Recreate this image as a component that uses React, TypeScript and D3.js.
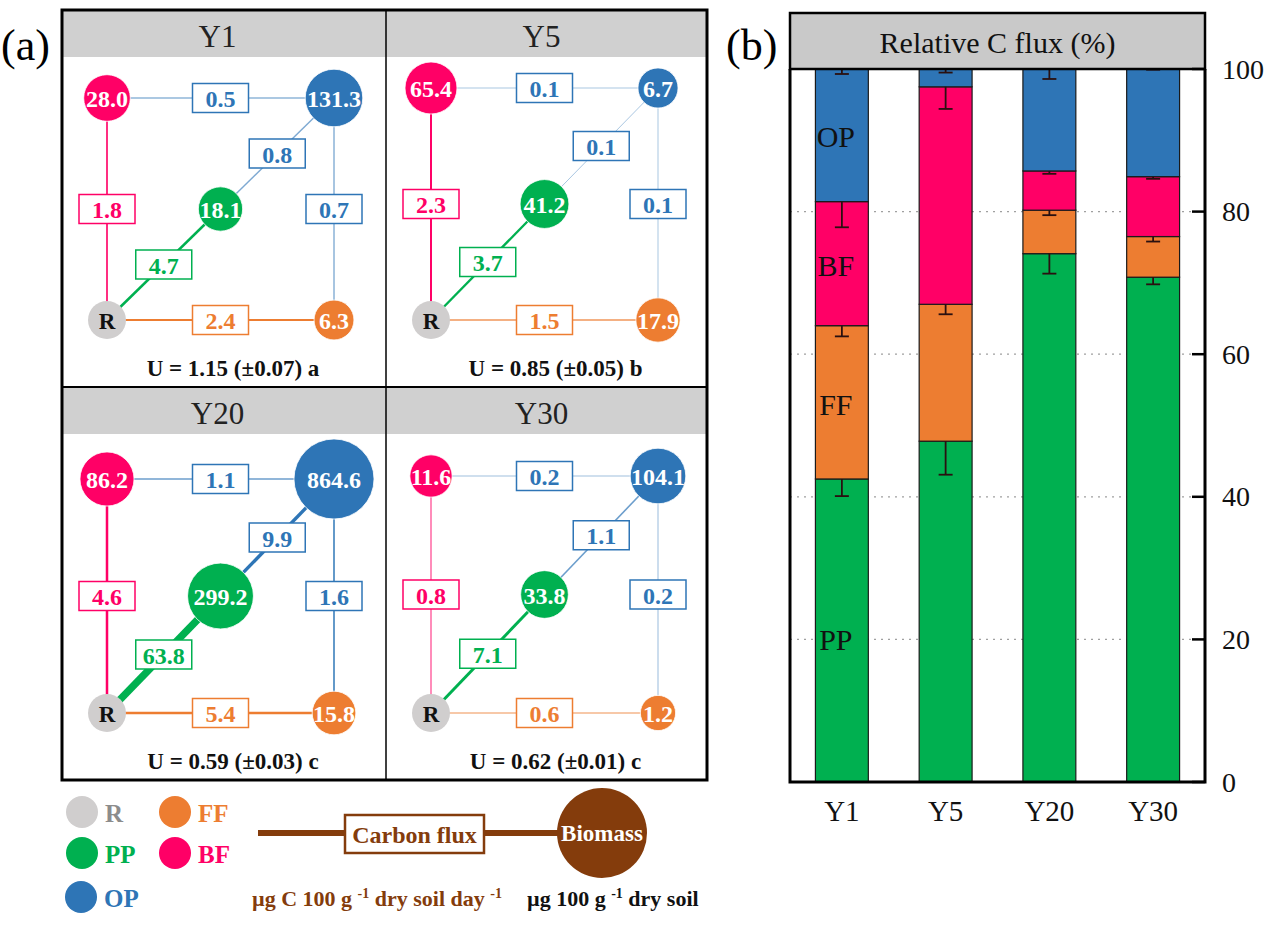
import React, { useEffect, useRef } from 'react';
import * as d3 from 'd3';

const years = ['Y1', 'Y5', 'Y20', 'Y30'];

// biomass of each group (µg 100 g-1 dry soil)
const bfBiomass = [28.0, 65.4, 86.2, 11.6];
const opBiomass = [131.3, 6.7, 864.6, 104.1];
const ppBiomass = [18.1, 41.2, 299.2, 33.8];
const ffBiomass = [6.3, 17.9, 15.8, 1.2];

// carbon fluxes (µg C 100 g-1 dry soil day-1)
const fluxRtoBF = [1.8, 2.3, 4.6, 0.8];
const fluxBFtoOP = [0.5, 0.1, 1.1, 0.2];
const fluxRtoPP = [4.7, 3.7, 63.8, 7.1];
const fluxPPtoOP = [0.8, 0.1, 9.9, 1.1];
const fluxRtoFF = [2.4, 1.5, 5.4, 0.6];
const fluxFFtoOP = [0.7, 0.1, 1.6, 0.2];

const uValues = ['1.15', '0.85', '0.59', '0.62'];
const uErrors = ['0.07', '0.05', '0.03', '0.01'];
const uLetters = ['a', 'b', 'c', 'c'];

// relative C flux (%), stacked from bottom
const groups = ['PP', 'FF', 'BF', 'OP'];
const relPP = [42.5, 47.8, 74.1, 70.8];
const relFF = [21.5, 19.2, 6.1, 5.7];
const relBF = [17.4, 30.5, 5.5, 8.4];
const relOP = [18.6, 2.5, 14.3, 15.1];
const errPP = [2.4, 4.7, 2.8, 1.0];
const errFF = [1.5, 1.4, 0.7, 0.7];
const errBF = [3.6, 3.1, 0.4, 0.3];
const errOP = [0.7, 0.5, 1.4, 0.1];
const yTicks = [0, 20, 40, 60, 80, 100];

const COLORS: Record<string, string> = {
  R: '#D0CECE',
  PP: '#00B050',
  FF: '#ED7D31',
  BF: '#FF0066',
  OP: '#2E75B6',
};
const BROWN = '#843C0C';
const FONT = "'Liberation Serif', 'Times New Roman', serif";

export default function App() {
  const svgRef = useRef<SVGSVGElement | null>(null);

  useEffect(() => {
    if (!svgRef.current) return;
    const svg = d3.select(svgRef.current);
    svg.selectAll('*').remove();
    svg.style('font-family', FONT);

    // ---------- panel (a): food web diagrams ----------
    const fx0 = 62, fx1 = 707, fy0 = 10, fy1 = 780, midX = 386, midY = 387;
    const headerH = 47;
    const topOffset = [41, 31, 45, 42];

    const rScale = d3.scalePow().exponent(0.3).domain([0, 1000]).range([14, 41.2]);
    const wScale = d3.scaleSqrt().domain([0, 64]).range([0.7, 7.5]);
    const opScale = d3.scaleLinear().domain([0, 2.2]).range([0.4, 1]).clamp(true);

    svg.append('text')
      .attr('x', 1).attr('y', 45)
      .attr('dominant-baseline', 'central')
      .style('font-size', '44px')
      .text('(a)');

    const ga = svg.append('g');

    years.forEach((yr, i) => {
      const col = i % 2, row = Math.floor(i / 2);
      const x0 = col ? midX : fx0;
      const x1 = col ? fx1 : midX;
      const top = row ? midY : fy0;
      const bottom = row ? fy1 : midY;

      ga.append('rect')
        .attr('x', x0).attr('y', top)
        .attr('width', x1 - x0).attr('height', headerH)
        .attr('fill', '#D0D0D0');

      const left = x0 + 45, right = x0 + 272;
      const ty = top + headerH + topOffset[i];
      const by = bottom - 67;
      const pos: Record<string, [number, number]> = {
        BF: [left, ty],
        OP: [right, ty],
        R: [left, by],
        FF: [right, by],
        PP: [(left + right) / 2, (ty + by) / 2],
      };

      ga.append('text')
        .attr('x', (left + right) / 2 - 3).attr('y', top + 26)
        .attr('text-anchor', 'middle')
        .attr('dominant-baseline', 'central')
        .style('font-size', '31px')
        .attr('fill', '#222')
        .text(yr);

      const edges = [
        { a: 'R', b: 'BF', v: fluxRtoBF[i], c: COLORS.BF },
        { a: 'BF', b: 'OP', v: fluxBFtoOP[i], c: COLORS.OP },
        { a: 'PP', b: 'OP', v: fluxPPtoOP[i], c: COLORS.OP },
        { a: 'OP', b: 'FF', v: fluxFFtoOP[i], c: COLORS.OP },
        { a: 'R', b: 'PP', v: fluxRtoPP[i], c: COLORS.PP },
        { a: 'R', b: 'FF', v: fluxRtoFF[i], c: COLORS.FF },
      ];

      edges.forEach(e => {
        ga.append('line')
          .attr('x1', pos[e.a][0]).attr('y1', pos[e.a][1])
          .attr('x2', pos[e.b][0]).attr('y2', pos[e.b][1])
          .attr('stroke', e.c)
          .attr('stroke-opacity', opScale(e.v))
          .attr('stroke-width', wScale(e.v));
      });

      edges.forEach(e => {
        const mx = (pos[e.a][0] + pos[e.b][0]) / 2;
        const my = (pos[e.a][1] + pos[e.b][1]) / 2;
        ga.append('rect')
          .attr('x', mx - 28).attr('y', my - 14.5)
          .attr('width', 56).attr('height', 29)
          .attr('fill', '#fff')
          .attr('stroke', e.c)
          .attr('stroke-width', 1.5);
        ga.append('text')
          .attr('x', mx).attr('y', my + 1)
          .attr('text-anchor', 'middle')
          .attr('dominant-baseline', 'central')
          .style('font-size', '24px')
          .style('font-weight', 'bold')
          .attr('fill', e.c)
          .text(e.v.toFixed(1));
      });

      const nodes = [
        { k: 'BF', v: bfBiomass[i] },
        { k: 'OP', v: opBiomass[i] },
        { k: 'PP', v: ppBiomass[i] },
        { k: 'FF', v: ffBiomass[i] },
      ];
      ga.append('circle')
        .attr('cx', pos.R[0]).attr('cy', pos.R[1])
        .attr('r', 19)
        .attr('fill', COLORS.R);
      ga.append('text')
        .attr('x', pos.R[0]).attr('y', pos.R[1] + 1)
        .attr('text-anchor', 'middle')
        .attr('dominant-baseline', 'central')
        .style('font-size', '23px')
        .style('font-weight', 'bold')
        .attr('fill', '#111')
        .text('R');

      nodes.forEach(n => {
        ga.append('circle')
          .attr('cx', pos[n.k][0]).attr('cy', pos[n.k][1])
          .attr('r', rScale(n.v))
          .attr('fill', COLORS[n.k])
          .attr('stroke', '#fff')
          .attr('stroke-width', 0.8);
        ga.append('text')
          .attr('x', pos[n.k][0]).attr('y', pos[n.k][1] + 1)
          .attr('text-anchor', 'middle')
          .attr('dominant-baseline', 'central')
          .style('font-size', '24px')
          .style('font-weight', 'bold')
          .attr('fill', '#fff')
          .text(n.v.toFixed(1));
      });

      ga.append('text')
        .attr('x', (x0 + x1) / 2 + 9).attr('y', bottom - 19)
        .attr('text-anchor', 'middle')
        .attr('dominant-baseline', 'central')
        .style('font-size', '23px')
        .style('font-weight', 'bold')
        .attr('fill', '#111')
        .text(`U = ${uValues[i]} (±${uErrors[i]}) ${uLetters[i]}`);
    });

    // frame and dividers
    ga.append('rect')
      .attr('x', fx0).attr('y', fy0)
      .attr('width', fx1 - fx0).attr('height', fy1 - fy0)
      .attr('fill', 'none').attr('stroke', '#000').attr('stroke-width', 3);
    ga.append('line')
      .attr('x1', midX).attr('x2', midX).attr('y1', fy0).attr('y2', fy1)
      .attr('stroke', '#000').attr('stroke-width', 1.5);
    ga.append('line')
      .attr('x1', fx0).attr('x2', fx1).attr('y1', midY).attr('y2', midY)
      .attr('stroke', '#000').attr('stroke-width', 2);

    // legend
    const lg = svg.append('g');
    const legendItems = [
      { k: 'R', x: 82, y: 812, tc: '#8C8C8C' },
      { k: 'FF', x: 175, y: 812, tc: COLORS.FF },
      { k: 'PP', x: 82, y: 853, tc: COLORS.PP },
      { k: 'BF', x: 175, y: 853, tc: COLORS.BF },
      { k: 'OP', x: 81, y: 897, tc: COLORS.OP },
    ];
    legendItems.forEach(d => {
      lg.append('circle')
        .attr('cx', d.x).attr('cy', d.y).attr('r', 16)
        .attr('fill', COLORS[d.k]);
      lg.append('text')
        .attr('x', d.x + 23).attr('y', d.y + 1)
        .attr('dominant-baseline', 'central')
        .style('font-size', '25px')
        .style('font-weight', 'bold')
        .attr('fill', d.tc)
        .text(d.k);
    });

    lg.append('line')
      .attr('x1', 258).attr('x2', 560).attr('y1', 833).attr('y2', 833)
      .attr('stroke', BROWN).attr('stroke-width', 6);
    lg.append('rect')
      .attr('x', 345).attr('y', 815).attr('width', 139).attr('height', 38)
      .attr('fill', '#fff').attr('stroke', BROWN).attr('stroke-width', 2.5);
    lg.append('text')
      .attr('x', 414.5).attr('y', 835)
      .attr('text-anchor', 'middle')
      .attr('dominant-baseline', 'central')
      .style('font-size', '24px')
      .style('font-weight', 'bold')
      .attr('fill', BROWN)
      .text('Carbon flux');
    lg.append('circle')
      .attr('cx', 602).attr('cy', 833).attr('r', 45)
      .attr('fill', BROWN);
    lg.append('text')
      .attr('x', 602).attr('y', 833)
      .attr('text-anchor', 'middle')
      .attr('dominant-baseline', 'central')
      .style('font-size', '23px')
      .style('font-weight', 'bold')
      .attr('fill', '#fff')
      .text('Biomass');

    const unitsA = lg.append('text')
      .attr('x', 252).attr('y', 906)
      .style('font-size', '22px')
      .style('font-weight', 'bold')
      .attr('fill', BROWN);
    unitsA.append('tspan').text('µg C 100 g ');
    unitsA.append('tspan').attr('dy', -8).style('font-size', '14px').text('-1');
    unitsA.append('tspan').attr('dy', 8).text(' dry soil day ');
    unitsA.append('tspan').attr('dy', -8).style('font-size', '14px').text('-1');

    const unitsB = lg.append('text')
      .attr('x', 527).attr('y', 906)
      .style('font-size', '22px')
      .style('font-weight', 'bold')
      .attr('fill', '#111');
    unitsB.append('tspan').text('µg 100 g ');
    unitsB.append('tspan').attr('dy', -8).style('font-size', '14px').text('-1');
    unitsB.append('tspan').attr('dy', 8).text(' dry soil');

    // ---------- panel (b): relative C flux ----------
    const bx0 = 790, bx1 = 1205, hTop = 13, pTop = 69, pBottom = 782;
    const x = d3.scaleBand<string>()
      .domain(years)
      .range([bx0, bx1])
      .paddingInner(0.49)
      .paddingOuter(0.245);
    const y = d3.scaleLinear().domain([0, 100]).range([pBottom, pTop]);

    svg.append('text')
      .attr('x', 726).attr('y', 45)
      .attr('dominant-baseline', 'central')
      .style('font-size', '44px')
      .text('(b)');

    const gb = svg.append('g');

    gb.selectAll('line.grid')
      .data(yTicks.filter(t => t > 0 && t < 100))
      .join('line')
      .attr('class', 'grid')
      .attr('x1', bx0).attr('x2', bx1)
      .attr('y1', d => y(d)).attr('y2', d => y(d))
      .attr('stroke', '#A0A0A0')
      .attr('stroke-width', 1.2)
      .attr('stroke-dasharray', '2,5');

    const rows = years.map((yr, i) => ({
      year: yr, PP: relPP[i], FF: relFF[i], BF: relBF[i], OP: relOP[i],
    }));
    const errs: Record<string, number[]> = { PP: errPP, FF: errFF, BF: errBF, OP: errOP };
    const stacked = d3.stack<any>().keys(groups)(rows);

    stacked.forEach(layer => {
      gb.append('g')
        .selectAll('rect')
        .data(layer)
        .join('rect')
        .attr('x', d => x(d.data.year)!)
        .attr('y', d => y(d[1]))
        .attr('width', x.bandwidth())
        .attr('height', d => y(d[0]) - y(d[1]))
        .attr('fill', COLORS[layer.key])
        .attr('stroke', '#1a1a1a')
        .attr('stroke-width', 1.2);
    });

    // error bars, hanging down from each segment top
    stacked.forEach(layer => {
      layer.forEach((d, i) => {
        const cx = x(d.data.year)! + x.bandwidth() / 2;
        const e = errs[layer.key][i];
        const y1 = y(d[1]);
        const y2 = y(d[1] - e);
        gb.append('line')
          .attr('x1', cx).attr('x2', cx).attr('y1', y1).attr('y2', y2)
          .attr('stroke', '#2a1010').attr('stroke-width', 1.8);
        gb.append('line')
          .attr('x1', cx - 7).attr('x2', cx + 7).attr('y1', y2).attr('y2', y2)
          .attr('stroke', '#2a1010').attr('stroke-width', 1.8);
      });
    });

    // segment labels in first bar
    const first = years[0];
    const labelY: Record<string, number> = { PP: 20, FF: 53, BF: 72.5, OP: 90.5 };
    stacked.forEach(layer => {
      gb.append('text')
        .attr('x', x(first)! + x.bandwidth() / 2 - 6)
        .attr('y', y(labelY[layer.key]))
        .attr('text-anchor', 'middle')
        .attr('dominant-baseline', 'central')
        .style('font-size', '30px')
        .attr('fill', '#111')
        .text(layer.key);
    });

    // header box
    gb.append('rect')
      .attr('x', bx0).attr('y', hTop)
      .attr('width', bx1 - bx0).attr('height', pTop - hTop)
      .attr('fill', '#C9C9C9')
      .attr('stroke', '#000').attr('stroke-width', 2.5);
    gb.append('text')
      .attr('x', (bx0 + bx1) / 2).attr('y', (hTop + pTop) / 2 + 1)
      .attr('text-anchor', 'middle')
      .attr('dominant-baseline', 'central')
      .style('font-size', '30px')
      .attr('fill', '#111')
      .text('Relative C flux (%)');

    // frame
    gb.append('path')
      .attr('d', `M${bx0},${pTop} V${pBottom} H${bx1} V${pTop}`)
      .attr('fill', 'none')
      .attr('stroke', '#000')
      .attr('stroke-width', 3);

    // right axis, ticks inward
    gb.selectAll('line.tick')
      .data(yTicks)
      .join('line')
      .attr('class', 'tick')
      .attr('x1', bx1 - 13).attr('x2', bx1)
      .attr('y1', d => y(d)).attr('y2', d => y(d))
      .attr('stroke', '#000').attr('stroke-width', 2.5);
    gb.selectAll('text.tlabel')
      .data(yTicks)
      .join('text')
      .attr('class', 'tlabel')
      .attr('x', 1222)
      .attr('y', d => y(d))
      .attr('dominant-baseline', 'central')
      .style('font-size', '28px')
      .attr('fill', '#111')
      .text(d => d);

    gb.selectAll('text.xlabel')
      .data(years)
      .join('text')
      .attr('class', 'xlabel')
      .attr('x', d => x(d)! + x.bandwidth() / 2)
      .attr('y', 811)
      .attr('text-anchor', 'middle')
      .attr('dominant-baseline', 'central')
      .style('font-size', '29px')
      .attr('fill', '#111')
      .text(d => d);
  }, []);

  return (
    <svg
      ref={svgRef}
      width={1269}
      height={926}
      style={{ position: 'absolute', left: 0, top: 0, background: '#fff' }}
    />
  );
}
